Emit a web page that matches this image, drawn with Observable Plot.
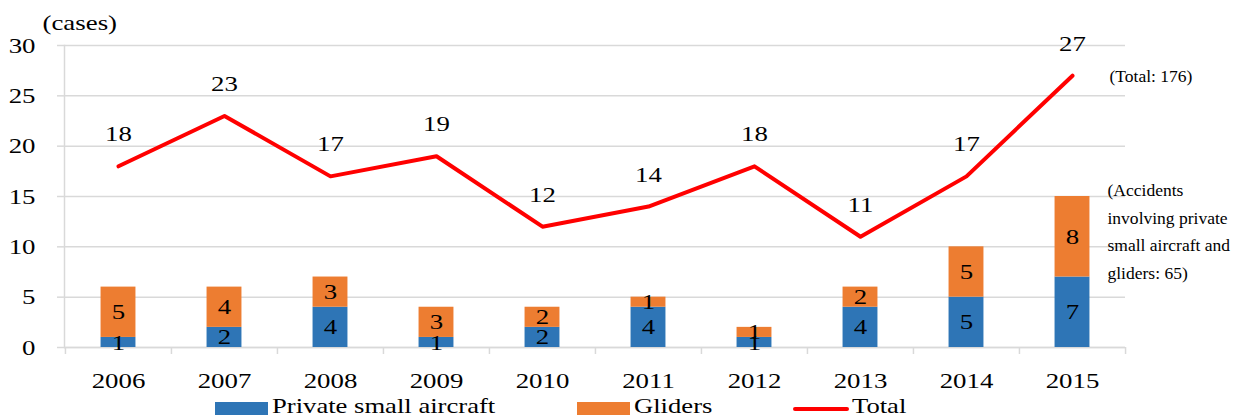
<!DOCTYPE html>
<html>
<head>
<meta charset="utf-8">
<script src="https://cdn.jsdelivr.net/npm/d3@7"></script>
<script src="https://cdn.jsdelivr.net/npm/@observablehq/plot@0.6"></script>
<style>
body { margin: 0; background: #fff; font-family: "Liberation Serif", "Times New Roman", serif; }
#legend { position: relative; width: 1238px; height: 24px; font-size: 22px; color: #000; }
#legend .sw { position: absolute; top: 7px; height: 13px; }
#legend .tx { position: absolute; top: -1px; line-height: 24px; white-space: nowrap; transform: scaleX(1.21); transform-origin: left center; }
</style>
</head>
<body>
<div id="chart"></div>
<div id="legend">
  <div class="sw" style="left:215px;width:53px;background:#2e75b6"></div>
  <div class="tx" style="left:272px">Private small aircraft</div>
  <div class="sw" style="left:577px;width:53px;background:#ed7d31"></div>
  <div class="tx" style="left:634px">Gliders</div>
  <div class="sw" style="left:793px;width:56px;height:4px;top:12px;background:#ff0000;border-radius:2px"></div>
  <div class="tx" style="left:852px">Total</div>
</div>
<script>
const years = ["2006","2007","2008","2009","2010","2011","2012","2013","2014","2015"];
const privateAircraft = [1,2,4,1,2,4,1,4,5,7];
const gliders = [5,4,3,3,2,1,1,2,5,8];
const totals = [18,23,17,19,12,14,18,11,17,27];
const yTicks = [0,5,10,15,20,25,30];
const totalNote = "(Total: 176)";
const accidentNote = ["(Accidents", "involving private", "small aircraft and", "gliders: 65)"];

const stacked = [];
years.forEach((y, i) => {
  stacked.push({year: y, series: "Private small aircraft", value: privateAircraft[i]});
  stacked.push({year: y, series: "Gliders", value: gliders[i]});
});
const totalRows = years.map((y, i) => ({year: y, total: totals[i]}));

const W = 1238, H = 395, mL = 64, mR = 113, mT = 45, mB = 48;
const bw = (W - mL - mR) / years.length;
const barW = 35;
const grid = "#d9d9d9";
const lastYear = years[years.length - 1];

const chart = Plot.plot({
  width: W, height: H,
  marginLeft: mL, marginRight: mR, marginTop: mT, marginBottom: mB,
  style: {fontFamily: "'Liberation Serif', 'Times New Roman', serif", fontSize: "22px", color: "#000", background: "#fff"},
  x: {type: "band", domain: years, padding: 0, label: null},
  y: {domain: [0, 30], label: null},
  color: {domain: ["Private small aircraft", "Gliders"], range: ["#2e75b6", "#ed7d31"]},
  marks: [
    Plot.gridY(yTicks, {stroke: grid, strokeOpacity: 1, strokeWidth: 1.5}),
    Plot.axisY(yTicks, {tickSize: 7, tickPadding: 22, stroke: grid, strokeWidth: 1.5, fontSize: 22, label: null}),
    Plot.frame({anchor: "left", stroke: grid, strokeWidth: 1.5}),
    Plot.ruleY([0], {stroke: grid, strokeWidth: 1.5}),
    Plot.axisX({ticks: years, tickSize: 7, tickFormat: () => "", dx: -bw / 2, stroke: grid, strokeWidth: 1.5, label: null}),
    Plot.axisX({ticks: [lastYear], tickSize: 7, tickFormat: () => "", dx: bw / 2, stroke: grid, strokeWidth: 1.5, label: null}),
    Plot.axisX({ticks: years, tickSize: 0, tickPadding: 25, fontSize: 22, label: null}),
    Plot.barY(stacked, Plot.stackY({x: "year", y: "value", fill: "series", insetLeft: (bw - barW) / 2, insetRight: (bw - barW) / 2})),
    Plot.text(stacked, Plot.stackY({x: "year", y: "value", text: "value", fill: "#000", fontSize: 22})),
    Plot.line(totalRows, {x: "year", y: "total", stroke: "#ff0000", strokeWidth: 4, strokeLinejoin: "round"}),
    Plot.text(totalRows, {x: "year", y: "total", text: "total", dy: -32, fontSize: 22, fill: "#000"}),
    Plot.text(["(cases)"], {frameAnchor: "top-left", lineAnchor: "middle", dx: -22, dy: -23, textAnchor: "start", fontSize: 22, fill: "#000"}),
    Plot.text([totalNote], {x: () => lastYear, y: () => 26.9, dx: 37, textAnchor: "start", fontSize: 17, fill: "#000"}),
    Plot.text(accidentNote, {x: () => lastYear, y: (d, i) => 15.55 - i * 2.72, dx: 35, textAnchor: "start", fontSize: 17, fill: "#000"})
  ]
});
document.getElementById("chart").appendChild(chart);

// The reference's type is horizontally widened; stretch glyphs to match.
chart.querySelectorAll("text").forEach(t => {
  const fs = parseFloat(getComputedStyle(t).fontSize);
  const s = fs < 18 ? 1.03 : 1.22;
  const spans = t.querySelectorAll("tspan");
  const targets = spans.length ? Array.from(spans) : [t];
  targets.forEach(el => {
    const len = el.getComputedTextLength();
    if (len > 0) {
      el.setAttribute("textLength", (len * s).toFixed(2));
      el.setAttribute("lengthAdjust", "spacingAndGlyphs");
    }
  });
});
</script>
</body>
</html>
